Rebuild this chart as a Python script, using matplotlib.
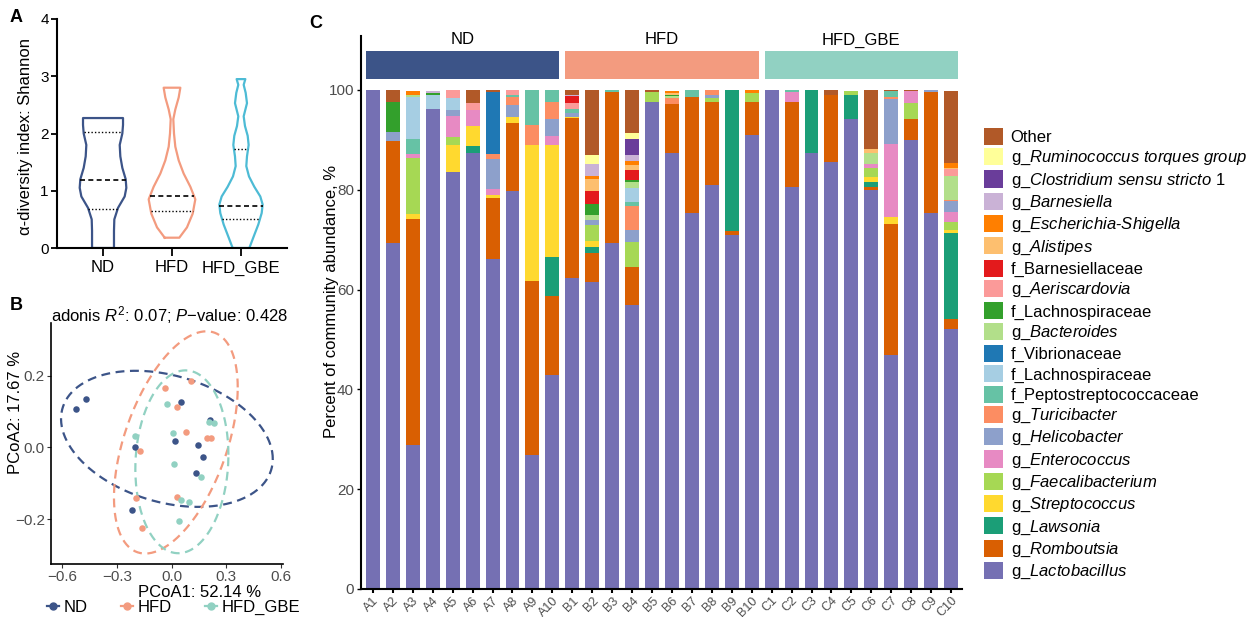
import matplotlib
matplotlib.use('Agg')
import matplotlib.pyplot as plt
import numpy as np
from matplotlib.patches import Patch
from matplotlib.lines import Line2D

plt.rcParams['font.family'] = ['Liberation Sans', 'DejaVu Sans']
plt.rcParams['mathtext.fontset'] = 'custom'
plt.rcParams['mathtext.rm'] = 'Liberation Sans'
plt.rcParams['mathtext.it'] = 'Liberation Sans:italic'

groups = ['ND', 'HFD', 'HFD_GBE']
group_colors = ['#3C5488', '#F39B7F', '#91D1C2']
violin_colors = ['#3C5488', '#F39B7F', '#4DBBD5']

# ---- panel A: violin outlines (Shannon level, half width)
nd_y = [0.0, 0.3, 0.5, 0.7, 0.9, 1.05, 1.2, 1.4, 1.6, 1.8, 2.0, 2.15, 2.27]
nd_w = [0.159, 0.159, 0.164, 0.217, 0.314, 0.338, 0.329, 0.28, 0.251, 0.242, 0.28, 0.29, 0.29]
hfd_y = [0.18, 0.36, 0.6, 0.85, 1.07, 1.3, 1.53, 1.77, 2.0, 2.25, 2.42, 2.63, 2.8]
hfd_w = [0.106, 0.217, 0.30, 0.338, 0.266, 0.169, 0.097, 0.048, 0.029, 0.019, 0.048, 0.097, 0.121]
gbe_y = [0.0, 0.2, 0.41, 0.61, 0.76, 0.9, 1.07, 1.25, 1.43, 1.6, 1.8, 1.96, 2.13, 2.3, 2.53, 2.71, 2.85, 2.95]
gbe_w = [0.121, 0.184, 0.251, 0.30, 0.314, 0.28, 0.193, 0.116, 0.077, 0.087, 0.111, 0.097,
         0.058, 0.039, 0.087, 0.068, 0.039, 0.063]
medians = [1.19, 0.90, 0.74]
quartiles = [[0.68, 2.02], [0.65], [0.50, 1.73]]

# ---- panel B: PCoA coordinates
nd_pc1 = [-0.524, -0.467, 0.049, 0.212, -0.199, 0.018, 0.145, 0.172, 0.134, -0.219]
nd_pc2 = [0.107, 0.136, 0.127, 0.077, 0.001, 0.019, 0.007, -0.026, -0.070, -0.175]
hfd_pc1 = [0.108, -0.036, 0.031, 0.081, 0.195, 0.217, -0.172, -0.195, 0.031, -0.165]
hfd_pc2 = [0.186, 0.166, 0.112, 0.042, 0.027, 0.025, -0.010, -0.141, -0.137, -0.225]
gbe_pc1 = [-0.024, -0.199, 0.005, 0.206, 0.230, 0.013, 0.159, 0.049, 0.094, 0.040]
gbe_pc2 = [0.122, 0.033, 0.040, 0.072, 0.068, -0.046, -0.083, -0.146, -0.153, -0.204]
# 95% ellipses: centre and shape matrix
ell_centers = [(-0.026, 0.024), (0.023, 0.014), (0.056, -0.040)]
ell_shapes = [[[0.3364, -0.0325], [-0.0325, 0.0360]],
              [[0.1149, 0.052], [0.052, 0.0960]],
              [[0.065, 0.005], [0.005, 0.065]]]

# ---- panel C: relative abundance (%) per sample
samples = ['A1', 'A2', 'A3', 'A4', 'A5', 'A6', 'A7', 'A8', 'A9', 'A10',
           'B1', 'B2', 'B3', 'B4', 'B5', 'B6', 'B7', 'B8', 'B9', 'B10',
           'C1', 'C2', 'C3', 'C4', 'C5', 'C6', 'C7', 'C8', 'C9', 'C10']
lactobacillus = [100, 69.3, 28.9, 96.2, 83.6, 87.3, 66.1, 79.8, 26.9, 42.9,
                 62.4, 61.6, 69.3, 56.9, 97.6, 87.4, 75.4, 81.0, 70.9, 91.0,
                 100, 80.6, 87.4, 85.6, 94.1, 80.0, 46.8, 90.0, 75.4, 52.0]
romboutsia = [0, 20.5, 45.2, 0, 0, 0, 12.3, 13.6, 34.8, 15.9,
              32.0, 5.7, 30.3, 7.6, 0, 9.8, 23.2, 16.6, 0.8, 6.6,
              0, 17.0, 0, 13.4, 0, 0.6, 26.3, 4.1, 24.2, 2.1]
lawsonia = [0, 0, 0, 0, 0, 1.5, 0, 0, 0, 7.7,
            0, 1.3, 0, 0, 0, 0, 0, 0, 28.3, 0,
            0, 0, 12.6, 0, 4.9, 1.0, 0, 0, 0, 17.2]
streptococcus = [0, 0, 1.0, 0, 5.4, 4.0, 0.5, 1.2, 27.3, 22.5,
                 0.2, 1.1, 0, 0, 0, 0, 0, 0, 0, 0,
                 0, 0, 0, 0, 0, 1.0, 1.4, 0, 0, 0.6]
faecalibacterium = [0, 0, 11.3, 0, 1.6, 0, 0, 0, 0, 0,
                    0, 3.2, 0, 5.0, 2.0, 0, 0, 0.8, 0, 1.8,
                    0, 0, 0, 0, 0.8, 1.8, 0, 3.3, 0, 1.6]
enterococcus = [0, 0, 0.8, 0, 4.2, 3.2, 1.3, 0, 0, 1.8,
                0, 0, 0, 0, 0, 0, 0, 0, 0, 0,
                0, 2.0, 0, 0, 0, 0.8, 14.7, 2.4, 0, 2.1]
helicobacter = [0, 1.8, 0, 0, 1.2, 0, 6.0, 2.4, 0, 3.4,
                0.7, 1.0, 0, 2.4, 0, 0, 0, 0.6, 0, 0,
                0, 0, 0, 0, 0, 0, 8.9, 0, 0.4, 2.2]
turicibacter = [0, 0, 0, 0, 0, 0, 1.0, 1.6, 4.0, 3.4,
                0, 0, 0, 4.9, 0, 1.2, 0, 1.0, 0, 0,
                0, 0, 0, 0, 0, 0, 0.5, 0, 0, 0.2]
peptostreptococcaceae = [0, 0, 3.0, 0, 0, 0, 0, 0.4, 7.0, 2.4,
                         0.9, 0, 0.4, 0.8, 0, 0, 1.4, 0, 0, 0,
                         0, 0.4, 0, 0, 0, 0, 1.1, 0, 0, 0]
lachnospiraceae_a = [0, 0, 8.3, 2.8, 2.4, 0, 0, 0, 0, 0,
                     0, 0, 0, 2.8, 0, 0, 0, 0, 0, 0,
                     0, 0, 0, 0, 0, 0, 0, 0, 0, 0]
vibrionaceae = [0, 0, 0, 0, 0, 0, 12.4, 0, 0, 0,
                0, 0, 0, 0, 0, 0, 0, 0, 0, 0,
                0, 0, 0, 0, 0, 0, 0, 0, 0, 0]
bacteroides = [0, 0, 0.5, 0, 0, 0, 0, 0, 0, 0,
               0, 1.0, 0, 1.2, 0, 0.4, 0, 0, 0, 0,
               0, 0, 0, 0, 0, 2.2, 0, 0, 0, 4.8]
lachnospiraceae_b = [0, 6.0, 0, 0.3, 0, 0, 0, 0, 0, 0,
                     0, 2.3, 0, 0.4, 0, 0.2, 0, 0, 0, 0,
                     0, 0, 0, 0, 0, 0, 0, 0, 0, 0]
aeriscardovia = [0, 0, 0, 0, 1.6, 1.4, 0, 1.0, 0, 0,
                 1.2, 0, 0, 0, 0, 0, 0, 0, 0, 0,
                 0, 0, 0, 0, 0, 0, 0, 0, 0, 1.4]
barnesiellaceae = [0, 0, 0, 0, 0, 0, 0, 0, 0, 0,
                   1.4, 2.6, 0, 2.0, 0, 0, 0, 0, 0, 0,
                   0, 0, 0, 0, 0, 0, 0, 0, 0, 0]
alistipes = [0, 0, 0, 0, 0, 0, 0, 0, 0, 0,
             0, 2.4, 0, 1.0, 0, 0.4, 0, 0, 0, 0,
             0, 0, 0, 0, 0, 0.8, 0, 0, 0, 0.2]
escherichia = [0, 0, 0.8, 0, 0, 0, 0, 0, 0, 0,
               0, 0.6, 0, 0.8, 0, 0.4, 0, 0, 0, 0.6,
               0, 0, 0, 0, 0, 0, 0, 0, 0, 1.0]
barnesiella = [0, 0, 0, 0.5, 0, 0, 0, 0, 0, 0,
               0.2, 2.4, 0, 1.2, 0, 0, 0, 0, 0, 0,
               0, 0, 0, 0, 0, 0, 0, 0, 0, 0]
clostridium = [0, 0, 0, 0, 0, 0, 0, 0, 0, 0,
               0, 0, 0, 3.2, 0, 0, 0, 0, 0, 0,
               0, 0, 0, 0, 0, 0, 0, 0, 0, 0]
ruminococcus = [0, 0, 0, 0, 0, 0, 0, 0, 0, 0,
                0, 1.8, 0, 1.2, 0, 0, 0, 0, 0, 0,
                0, 0, 0, 0, 0, 0, 0, 0, 0, 0]
other = [0, 2.4, 0, 0, 0, 2.6, 0.4, 0, 0, 0,
         1.0, 13.0, 0, 8.6, 0.4, 0, 0, 0, 0, 0,
         0, 0, 0, 1.0, 0, 11.8, 0.3, 0.2, 0, 14.4]

# stacking order, bottom to top
taxa = [
    ('g_$\\mathit{Lactobacillus}$', lactobacillus, '#7570B3'),
    ('g_$\\mathit{Romboutsia}$', romboutsia, '#D95F02'),
    ('g_$\\mathit{Lawsonia}$', lawsonia, '#1B9E77'),
    ('g_$\\mathit{Streptococcus}$', streptococcus, '#FFD92F'),
    ('g_$\\mathit{Faecalibacterium}$', faecalibacterium, '#A6D854'),
    ('g_$\\mathit{Enterococcus}$', enterococcus, '#E78AC3'),
    ('g_$\\mathit{Helicobacter}$', helicobacter, '#8DA0CB'),
    ('g_$\\mathit{Turicibacter}$', turicibacter, '#FC8D62'),
    ('f_Peptostreptococcaceae', peptostreptococcaceae, '#66C2A5'),
    ('f_Lachnospiraceae', lachnospiraceae_a, '#A6CEE3'),
    ('f_Vibrionaceae', vibrionaceae, '#1F78B4'),
    ('g_$\\mathit{Bacteroides}$', bacteroides, '#B2DF8A'),
    ('f_Lachnospiraceae', lachnospiraceae_b, '#33A02C'),
    ('g_$\\mathit{Aeriscardovia}$', aeriscardovia, '#FB9A99'),
    ('f_Barnesiellaceae', barnesiellaceae, '#E31A1C'),
    ('g_$\\mathit{Alistipes}$', alistipes, '#FDBF6F'),
    ('g_$\\mathit{Escherichia}$-$\\mathit{Shigella}$', escherichia, '#FF7F00'),
    ('g_$\\mathit{Barnesiella}$', barnesiella, '#CAB2D6'),
    ('g_$\\mathit{Clostridium\\ sensu\\ stricto\\ 1}$', clostridium, '#6A3D9A'),
    ('g_$\\mathit{Ruminococcus\\ torques\\ group}$', ruminococcus, '#FFFF99'),
    ('Other', other, '#B15928'),
]

W, H = 1255, 617
fig = plt.figure(figsize=(W / 100, H / 100), dpi=100)
grey = '#4D4D4D'

# ================= A =================
axA = fig.add_axes([57 / W, 1 - 248 / H, 230 / W, 229 / H])
violins = [(nd_y, nd_w), (hfd_y, hfd_w), (gbe_y, gbe_w)]
for i, (ys, ws) in enumerate(violins):
    ys = np.asarray(ys)
    ws = np.asarray(ws)
    xs = np.concatenate([i - ws, (i + ws)[::-1], [i - ws[0]]])
    yy = np.concatenate([ys, ys[::-1], [ys[0]]])
    axA.plot(xs, yy, color=violin_colors[i], lw=1.6, solid_joinstyle='round')
    half = np.interp(medians[i], ys, ws)
    axA.plot([i - half, i + half], [medians[i]] * 2, color='black', lw=1.2, ls=(0, (3, 2)))
    for q in quartiles[i]:
        half = np.interp(q, ys, ws)
        axA.plot([i - half, i + half], [q, q], color='black', lw=1.0, ls=(0, (1, 1.5)))
axA.set_xlim(-0.667, 2.667)
axA.set_ylim(0, 4)
axA.set_yticks([0, 1, 2, 3, 4])
axA.set_xticks([0, 1, 2])
axA.set_xticklabels(groups, fontsize=12)
axA.tick_params(axis='y', labelsize=11, length=4, width=1.3, pad=2)
axA.tick_params(axis='x', length=6, width=1.3, pad=3)
for s in ['top', 'right']:
    axA.spines[s].set_visible(False)
for s in ['left', 'bottom']:
    axA.spines[s].set_linewidth(1.5)
axA.set_ylabel('α-diversity index: Shannon', fontsize=12)
axA.yaxis.set_label_coords(-0.104, 0.485)

# ================= B =================
axB = fig.add_axes([51 / W, 1 - 564 / H, 232 / W, 241 / H])
pcoa = [(nd_pc1, nd_pc2), (hfd_pc1, hfd_pc2), (gbe_pc1, gbe_pc2)]
t = np.linspace(0, 2 * np.pi, 240)
for i in range(3):
    L = np.linalg.cholesky(np.array(ell_shapes[i]))
    pts = L @ np.vstack([np.cos(t), np.sin(t)])
    axB.plot(ell_centers[i][0] + pts[0], ell_centers[i][1] + pts[1],
             color=group_colors[i], lw=1.6, ls=(0, (4, 2.5)))
for i in range(3):
    axB.scatter(pcoa[i][0], pcoa[i][1], s=22, color=group_colors[i], zorder=3, linewidths=0)
axB.set_xlim(-0.661, 0.61)
axB.set_ylim(-0.325, 0.347)
axB.set_xticks([-0.6, -0.3, 0.0, 0.3, 0.6])
axB.set_yticks([-0.2, 0.0, 0.2])
axB.tick_params(labelsize=11, labelcolor=grey, color='#333333', length=3, width=0.8, pad=1.5)
for s in ['top', 'right']:
    axB.spines[s].set_visible(False)
for s in ['left', 'bottom']:
    axB.spines[s].set_linewidth(1.2)
axB.set_xlabel('PCoA1: 52.14 %', fontsize=12)
axB.xaxis.set_label_coords(0.642, -0.088)
axB.set_ylabel('PCoA2: 17.67 %', fontsize=12)
axB.yaxis.set_label_coords(-0.12, 0.63)
axB.text(0.513, 1.035, 'adonis $\\mathit{R}^{2}$: 0.07; $\\mathit{P}$\u2212value: 0.428',
         transform=axB.transAxes, ha='center', va='center', fontsize=12)
handlesB = [Line2D([0], [0], color=c, lw=1.6, marker='o', markersize=5) for c in group_colors]
axB.legend(handlesB, groups, loc='center left', bbox_to_anchor=(-0.017, -0.18),
           ncol=3, frameon=False, fontsize=12, handlelength=0.7, handletextpad=0.3,
           columnspacing=2.0, borderpad=0, borderaxespad=0)

# ================= C =================
axC = fig.add_axes([361 / W, 1 - 589 / H, 601 / W, 553 / H])
xpos = np.arange(len(samples))
bottom = np.zeros(len(samples))
for name, vals, col in taxa:
    vals = np.asarray(vals, dtype=float)
    axC.bar(xpos, vals, bottom=bottom, width=0.7, color=col, linewidth=0)
    bottom += vals
for g in range(3):
    axC.bar(4.5 + 10 * g, 5.5, bottom=102.2, width=9.7, color=group_colors[g], linewidth=0,
            clip_on=False)
    axC.text(4.5 + 10 * g, 110.0, groups[g], ha='center', va='center', fontsize=12)
axC.set_xlim(-0.6, 29.55)
axC.set_ylim(0, 110.8)
axC.set_yticks([0, 20, 40, 60, 80, 100])
axC.set_xticks(xpos)
axC.set_xticklabels(samples, rotation=45, ha='right', rotation_mode='anchor')
axC.tick_params(axis='y', labelsize=11, labelcolor=grey, length=3, width=1.0, pad=2)
axC.tick_params(axis='x', labelsize=9, labelcolor=grey, length=3, width=1.5, pad=1)
for s in ['top', 'right']:
    axC.spines[s].set_visible(False)
for s in ['left', 'bottom']:
    axC.spines[s].set_linewidth(1.5)
axC.set_ylabel('Percent of community abundance, %', fontsize=12)
axC.yaxis.set_label_coords(-0.037, 0.52)

handlesC = [Patch(facecolor=col, edgecolor='none') for name, vals, col in taxa[::-1]]
labelsC = [name for name, vals, col in taxa[::-1]]
fig.legend(handlesC, labelsC, loc='upper left', bbox_to_anchor=(984 / W, 1 - 128 / H),
           frameon=False, fontsize=12, handlelength=1.15, handleheight=1.2,
           labelspacing=0.18, handletextpad=0.45, borderpad=0, borderaxespad=0)

# panel letters
fig.text(10 / W, 1 - 17 / H, 'A', fontsize=13, weight='bold', va='center')
fig.text(10 / W, 1 - 305 / H, 'B', fontsize=13, weight='bold', va='center')
fig.text(309 / W, 1 - 23 / H, 'C', fontsize=13, weight='bold', va='center')

fig.savefig('out.png', dpi=100)
